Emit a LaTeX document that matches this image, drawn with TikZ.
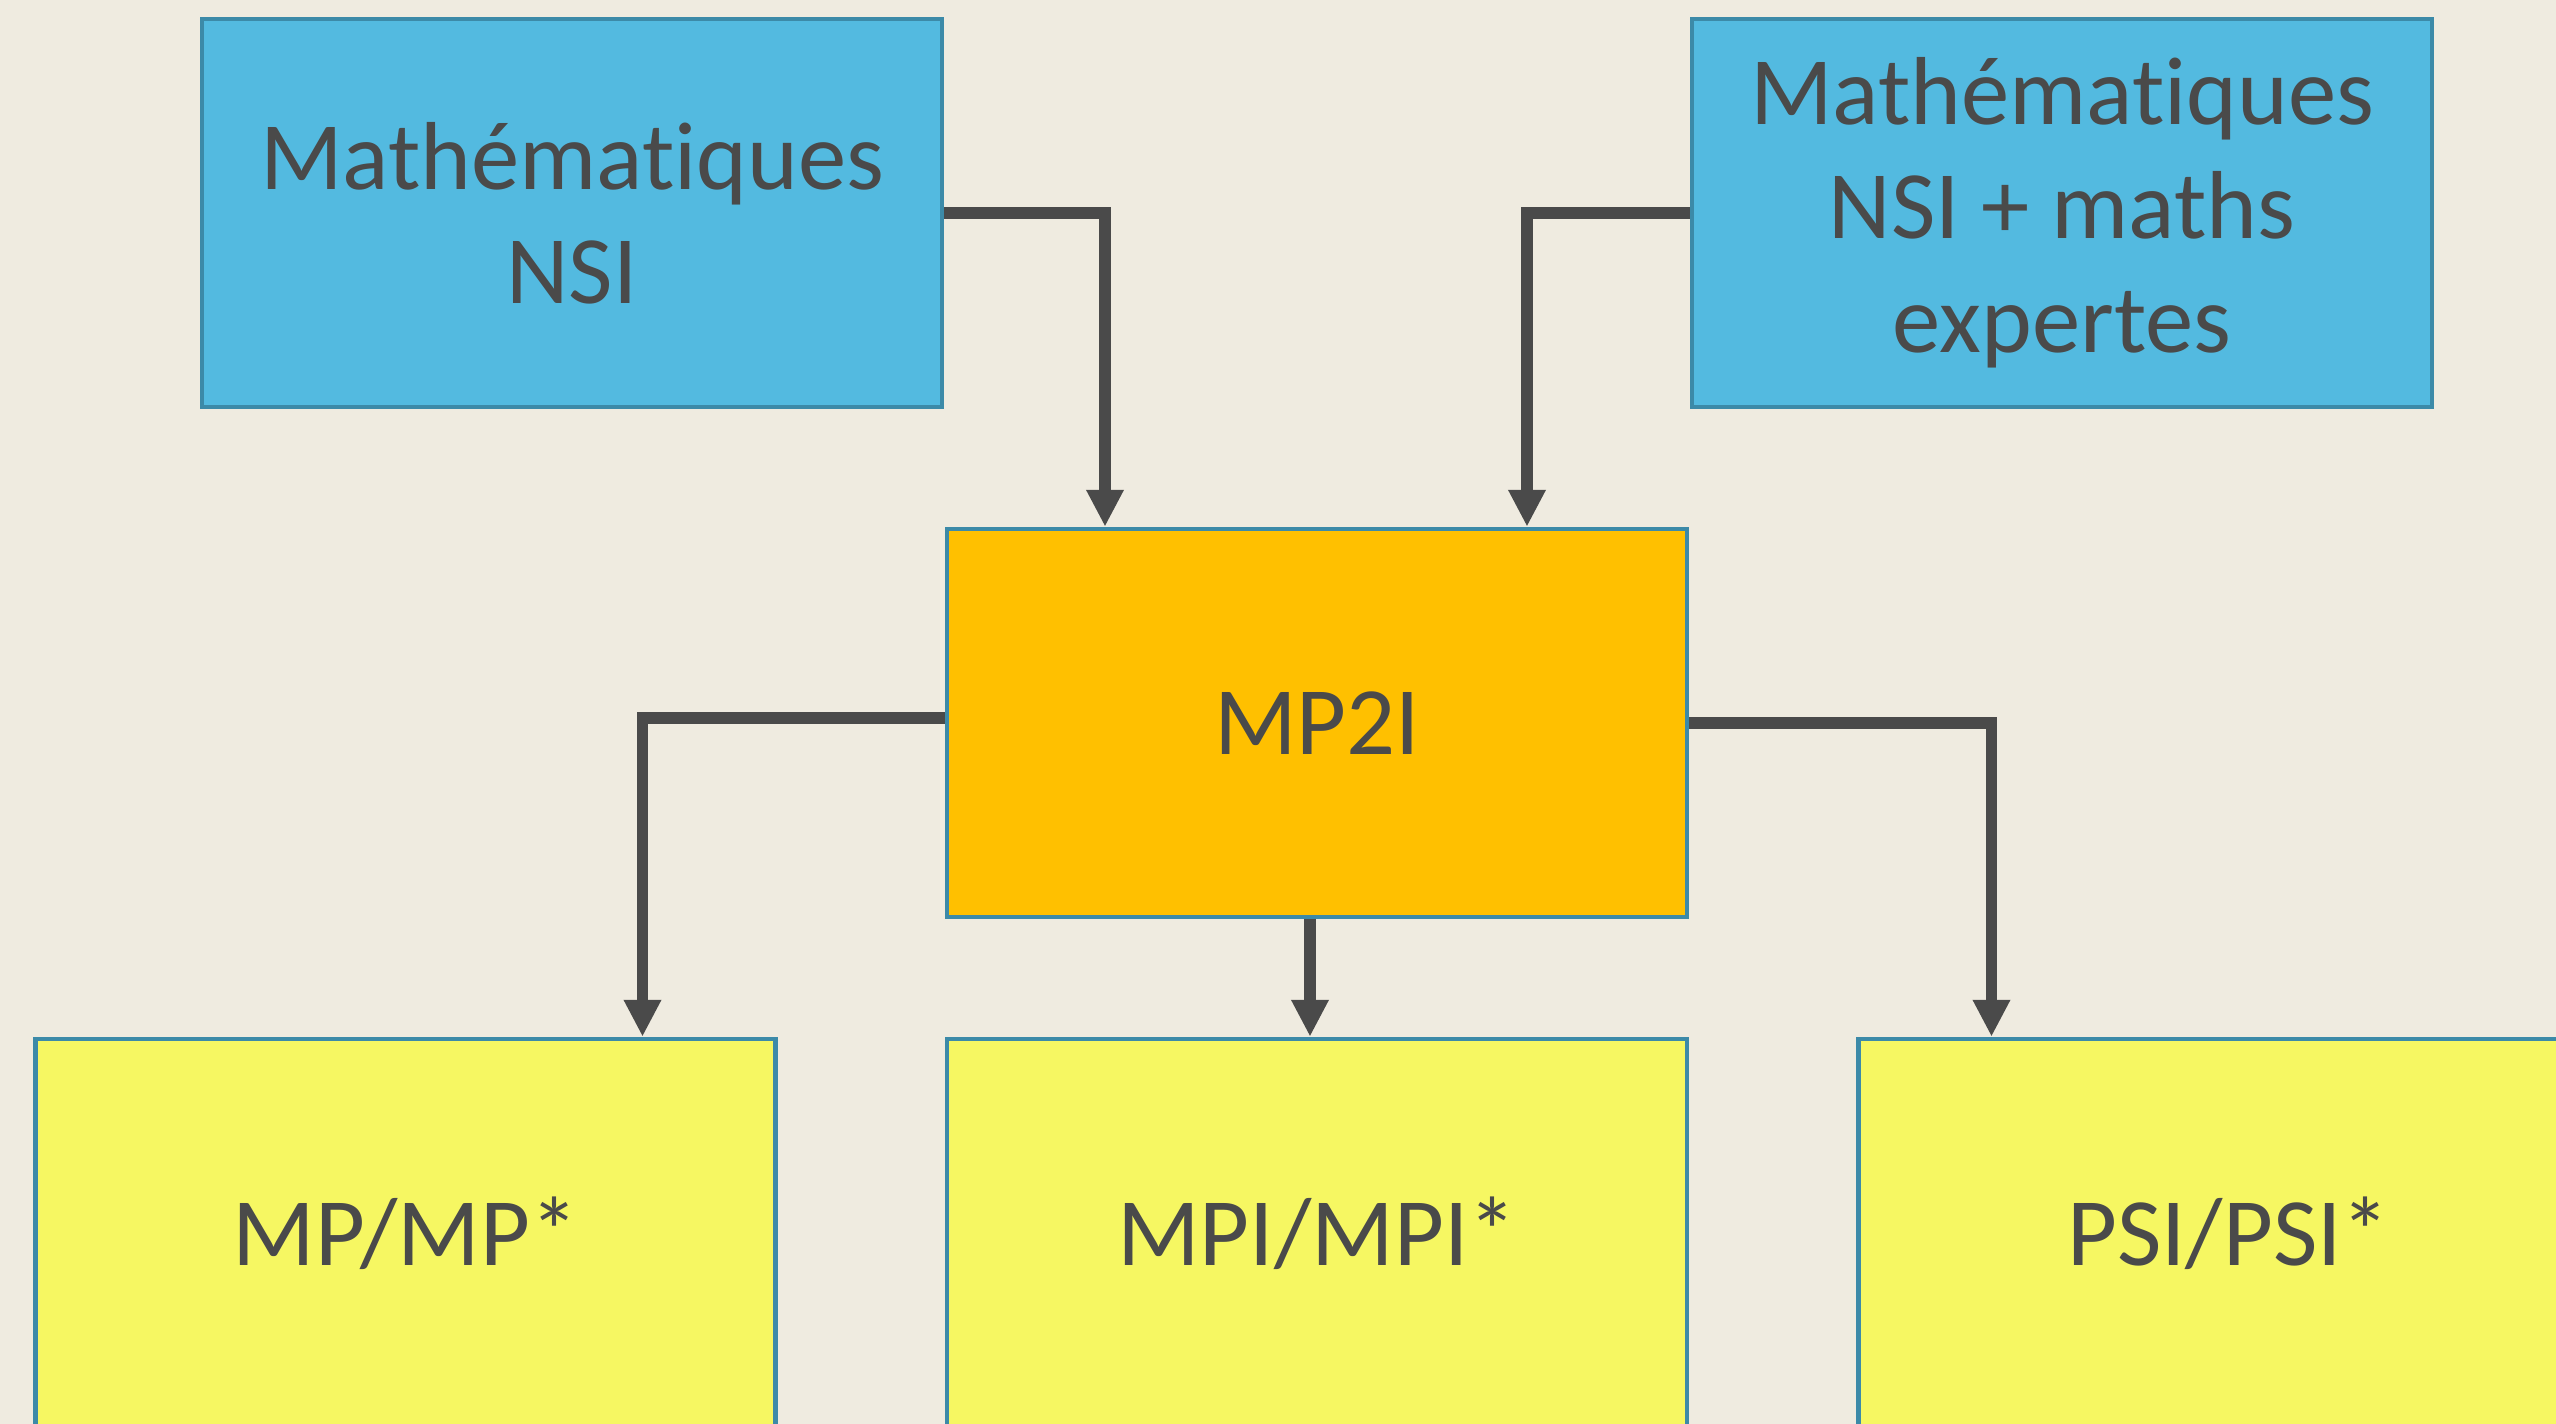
\documentclass[tikz,border=0pt]{standalone}
\usepackage{fontspec}
\setmainfont{Carlito}[RawFeature={-liga;-clig;-dlig;-calt}]
\usetikzlibrary{arrows.meta,positioning,calc}

\definecolor{paper}{RGB}{239,235,224}
\definecolor{edge}{RGB}{60,138,168}
\definecolor{ink}{RGB}{74,74,74}
\definecolor{lycee}{RGB}{83,186,224}
\definecolor{prepa}{RGB}{255,192,0}
\definecolor{ecole}{RGB}{246,247,98}

\begin{document}
\begin{tikzpicture}[scale=1]
  \tikzstyle{box}=[draw=edge, line width=1.3pt, text=ink, minimum width=7.4cm, minimum height=3.88cm, inner sep=0pt, align=center, font=\fontsize{27.5}{32.5}\selectfont]
  \tikzstyle{dep}=[draw=ink, line width=3.4pt, >={Triangle[length=10.5pt,width=10pt]}]
  \def\hsp{9.115}
  \def\vsp{5.1}

  \coordinate (origin) at (0,0);
  \useasboundingbox (origin) rectangle (25.56,14.24);
  \fill [paper] (origin) rectangle (25.56,14.24);
  \clip (origin) rectangle (25.56,14.24);

  \node [box, fill=prepa] (mp2i) at ($(origin)+(13.17,7.01)$) {MP2I};
  \node [box, fill=lycee] (maths) at ($(mp2i)+(-7.45,\vsp)$) {Mathématiques\\NSI};
  \node [box, fill=lycee] (expert) at ($(mp2i)+(7.45,\vsp)$) {Mathématiques\\NSI + maths\\expertes};
  \node [box, fill=ecole] (mpi) at ($(mp2i)+(0,-\vsp)$) {MPI/MPI*};
  \node [box, fill=ecole] (mp) at ($(mpi)+(-\hsp,0)$) {MP/MP*};
  \node [box, fill=ecole] (psi) at ($(mpi)+(\hsp,0)$) {PSI/PSI*};

  \draw [dep,->] (maths.east) -| ([xshift=-2.12cm]mp2i.north);
  \draw [dep,->] (expert.west) -| ([xshift=2.1cm]mp2i.north);
  \draw [dep,->] ([yshift=0.05cm]mp2i.west) -| ([xshift=2.37cm]mp.north);
  \draw [dep,->] ([xshift=-0.07cm]mp2i.south) -- ([xshift=-0.07cm]mpi.north);
  \draw [dep,->] (mp2i.east) -| ([xshift=-2.37cm]psi.north);
\end{tikzpicture}
\end{document}
